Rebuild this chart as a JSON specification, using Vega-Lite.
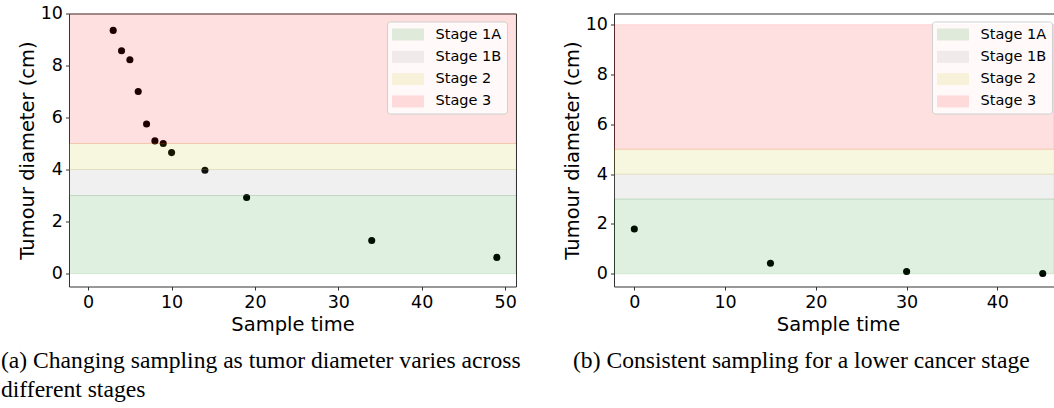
{
  "$schema": "https://vega.github.io/schema/vega-lite/v6.json",
  "padding": {"left": 0, "top": 3.5, "right": 0, "bottom": 0},
  "background": "white",
  "spacing": 98,
  "bounds": "flush",
  "resolve": {"scale": {"color": "independent", "stroke": "independent"}, "legend": {"color": "independent"}},
  "datasets": {
    "bands": [
      {"stage": "Stage 1A", "lo": 0, "hi": 3},
      {"stage": "Stage 1B", "lo": 3, "hi": 4},
      {"stage": "Stage 2", "lo": 4, "hi": 5},
      {"stage": "Stage 3", "lo": 5, "hi": 10}
    ],
    "a": [
      {"t": 3, "d": 9.35}, {"t": 4, "d": 8.57}, {"t": 5, "d": 8.22}, {"t": 6, "d": 7.0},
      {"t": 7, "d": 5.75}, {"t": 8, "d": 5.1}, {"t": 9, "d": 5.0}, {"t": 10, "d": 4.65},
      {"t": 14, "d": 3.97}, {"t": 19, "d": 2.92}, {"t": 34, "d": 1.27}, {"t": 49, "d": 0.62}
    ],
    "b": [
      {"t": 0, "d": 1.8}, {"t": 15, "d": 0.42}, {"t": 30, "d": 0.09}, {"t": 45, "d": 0.01}
    ]
  },
  "config": {
    "view": {"stroke": "#333333", "strokeWidth": 1},
    "font": "DejaVu Sans",
    "axis": {
      "labelFont": "DejaVu Sans", "labelFontSize": 17.5, "labelColor": "black",
      "titleFont": "DejaVu Sans", "titleFontSize": 19.5, "titleFontWeight": "normal", "titleColor": "black",
      "grid": false, "domain": false, "tickColor": "#333333", "tickSize": 3.5, "labelPadding": 3, "titlePadding": 5
    },
    "legend": {
      "symbolType": "M-1,-0.75H3V0.75H-1Z", "symbolSize": 256, "symbolOpacity": 0.12, "symbolStrokeWidth": 0,
      "labelFont": "DejaVu Sans", "labelFontSize": 14.5, "labelColor": "black", "labelOffset": 27.6,
      "padding": 5, "rowPadding": 7.3,
      "fillColor": "rgba(255,255,255,0.8)", "strokeColor": "#d0d0d0", "cornerRadius": 3
    },
    "title": {
      "font": "Liberation Serif", "fontSize": 23.6, "fontWeight": "normal", "color": "black",
      "orient": "bottom", "anchor": "start", "frame": "group", "lineHeight": 29, "offset": 15
    }
  },
  "hconcat": [
    {
      "width": 447, "height": 273,
      "title": {"text": ["(a) Changing sampling as tumor diameter varies across", "different stages"], "dx": -68},
      "layer": [
        {
          "data": {"name": "a"},
          "mark": {"type": "point", "filled": true, "size": 50, "color": "black", "opacity": 1},
          "encoding": {
            "x": {"field": "t", "type": "quantitative", "scale": {"domain": [-2.3, 51.3], "nice": false, "zero": false}, "axis": {"title": "Sample time", "values": [0, 10, 20, 30, 40, 50]}},
            "y": {"field": "d", "type": "quantitative", "scale": {"domain": [-0.5, 10], "nice": false, "zero": false}, "axis": {"title": "Tumour diameter (cm)", "values": [0, 2, 4, 6, 8, 10], "titlePadding": 3}}
          }
        },
        {
          "data": {"name": "bands"},
          "mark": {"type": "rect", "fillOpacity": 0.12, "strokeOpacity": 0.12, "strokeWidth": 1, "clip": true},
          "encoding": {
            "y": {"field": "lo", "type": "quantitative"},
            "y2": {"field": "hi"},
            "color": {"field": "stage", "type": "nominal", "scale": {"domain": ["Stage 1A", "Stage 1B", "Stage 2", "Stage 3"], "range": ["#008000", "#808080", "#bfbf00", "#ff0000"]}, "legend": {"title": null, "orient": "none", "legendX": 318, "legendY": 8}},
            "stroke": {"field": "stage", "type": "nominal", "scale": {"domain": ["Stage 1A", "Stage 1B", "Stage 2", "Stage 3"], "range": ["#008000", "#808080", "#bfbf00", "#ff0000"]}, "legend": null}
          }
        }
      ]
    },
    {
      "width": 440, "height": 273,
      "title": {"text": "(b) Consistent sampling for a lower cancer stage", "dx": -41},
      "layer": [
        {
          "data": {"name": "b"},
          "mark": {"type": "point", "filled": true, "size": 50, "color": "black", "opacity": 1},
          "encoding": {
            "x": {"field": "t", "type": "quantitative", "scale": {"domain": [-2.24, 46.24], "nice": false, "zero": false}, "axis": {"title": "Sample time", "values": [0, 10, 20, 30, 40], "titleX": 224}},
            "y": {"field": "d", "type": "quantitative", "scale": {"domain": [-0.51, 10.45], "nice": false, "zero": false}, "axis": {"title": "Tumour diameter (cm)", "values": [0, 2, 4, 6, 8, 10], "titlePadding": 3}}
          }
        },
        {
          "data": {"name": "bands"},
          "mark": {"type": "rect", "fillOpacity": 0.12, "strokeOpacity": 0.12, "strokeWidth": 1, "clip": true},
          "encoding": {
            "y": {"field": "lo", "type": "quantitative"},
            "y2": {"field": "hi"},
            "color": {"field": "stage", "type": "nominal", "scale": {"domain": ["Stage 1A", "Stage 1B", "Stage 2", "Stage 3"], "range": ["#008000", "#808080", "#bfbf00", "#ff0000"]}, "legend": {"title": null, "orient": "none", "legendX": 318, "legendY": 8}},
            "stroke": {"field": "stage", "type": "nominal", "scale": {"domain": ["Stage 1A", "Stage 1B", "Stage 2", "Stage 3"], "range": ["#008000", "#808080", "#bfbf00", "#ff0000"]}, "legend": null}
          }
        }
      ]
    }
  ]
}
